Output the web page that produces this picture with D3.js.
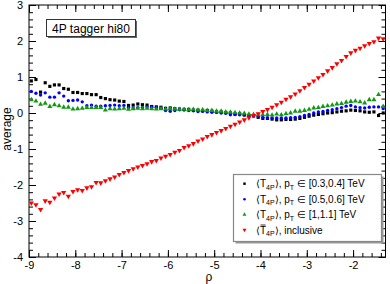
<!DOCTYPE html>
<html><head><meta charset="utf-8">
<script src="https://cdn.jsdelivr.net/npm/d3@7"></script>
<style>
html,body{margin:0;padding:0;background:#fff;}
svg{display:block;font-family:"Liberation Sans",Arial,sans-serif;}
</style></head>
<body><svg id="c" width="390" height="284"></svg>
<script>
const rho = [-8.95,-8.85,-8.75,-8.65,-8.55,-8.45,-8.35,-8.25,-8.15,-8.05,
-7.95,-7.85,-7.75,-7.65,-7.55,-7.45,-7.35,-7.25,-7.15,-7.05,
-6.95,-6.85,-6.75,-6.65,-6.55,-6.45,-6.35,-6.25,-6.15,-6.05,
-5.95,-5.85,-5.75,-5.65,-5.55,-5.45,-5.35,-5.25,-5.15,-5.05,
-4.95,-4.85,-4.75,-4.65,-4.55,-4.45,-4.35,-4.25,-4.15,-4.05,
-3.95,-3.85,-3.75,-3.65,-3.55,-3.45,-3.35,-3.25,-3.15,-3.05,
-2.95,-2.85,-2.75,-2.65,-2.55,-2.45,-2.35,-2.25,-2.15,-2.05,
-1.95,-1.85,-1.75,-1.65,-1.55,-1.45,-1.35];
const pt03 = [.89,.93,.58,.84,.74,.78,.78,.68,.66,.57,
.57,.54,.54,.51,.51,.43,.40,.37,.36,.33,
.32,.21,.22,.25,.23,.22,.18,.17,.16,.13,
.14,.12,.11,.10,.10,.08,.08,.06,.07,.05,
.03,.03,.01,.00,-.03,-.02,-.05,-.07,-.08,-.12,
-.15,-.15,-.17,-.19,-.19,-.18,-.18,-.17,-.15,-.12,
-.09,-.06,-.04,-.02,.00,.01,.03,.05,.06,.08,
.07,.06,.03,.02,.03,-.07,.00];
const pt05 = [.60,.55,.50,.56,.44,.44,.56,.47,.34,.35,
.36,.31,.20,.22,.19,.19,.20,.21,.22,.20,
.21,.15,.14,.15,.15,.17,.16,.15,.13,.07,
.05,.07,.09,.08,.07,.06,.04,.05,.03,.02,
.02,.00,-.01,-.05,-.04,-.05,-.06,-.07,-.08,-.10,
-.12,-.13,-.14,-.14,-.14,-.14,-.13,-.12,-.10,-.07,
-.04,.00,.03,.04,.07,.09,.12,.15,.19,.21,
.17,.15,.14,.16,.17,.17,.12];
const pt10 = [.37,.33,.24,.27,.18,.23,.20,.16,.16,.11,
.12,.13,.15,.15,.15,.15,.08,.12,.11,.12,
.13,.10,.12,.13,.12,.13,.12,.11,.12,.11,
.12,.11,.10,.10,.09,.10,.08,.09,.07,.07,
.05,.05,.03,.02,.01,.00,-.01,-.03,-.04,-.05,
-.05,-.04,-.06,-.03,-.05,-.02,.00,.05,.05,.07,
.10,.14,.15,.18,.20,.22,.25,.26,.30,.32,
.33,.31,.28,.37,.37,.51,.18];
const inclusive = [-2.50,-2.55,-2.68,-2.44,-2.48,-2.36,-2.25,-2.21,-2.31,-2.18,
-2.13,-2.15,-2.08,-2.05,-1.93,-1.94,-1.88,-1.83,-1.78,-1.71,
-1.65,-1.60,-1.55,-1.50,-1.46,-1.41,-1.35,-1.32,-1.25,-1.20,
-1.15,-1.09,-1.04,-0.96,-0.91,-0.85,-0.78,-0.72,-0.65,-0.60,
-0.54,-0.49,-0.43,-0.37,-0.31,-0.25,-0.19,-0.13,-0.07,-0.02,
0.04,0.10,0.16,0.23,0.30,0.38,0.45,0.53,0.62,0.71,
0.80,0.89,0.98,1.07,1.17,1.26,1.37,1.46,1.57,1.67,
1.74,1.80,1.87,1.93,1.98,2.08,2.06];
const xTicks = [-9,-8,-7,-6,-5,-4,-3,-2];
const yTicks = [-4,-3,-2,-1,0,1,2,3];
const seriesNames = ["pt03","pt05","pt10","inclusive"];
const legendRanges = ["[0.3,0.4] TeV","[0.5,0.6] TeV","[1,1.1] TeV"];
const titleText = "4P tagger hi80";
const xTitle = "ρ", yTitle = "average";

const svg = d3.select("#c");
const L=29, R=385.5, T=5, B=257;
const x = d3.scaleLinear().domain([-9,-1.3]).range([L,R]);
const y = d3.scaleLinear().domain([-4,3]).range([B,T]);

const xMinor = d3.range(-9,-1.3,0.2).map(v=>+v.toFixed(2));
const yMinor = d3.range(-4,3.01,0.2).map(v=>+v.toFixed(2));

function styleAxis(g){ g.select(".domain").remove(); g.selectAll("line").attr("stroke","#000"); }
const fmt = d=>String(d);
// bottom
svg.append("g").attr("transform",`translate(0,${B})`).call(d3.axisBottom(x).tickValues(xMinor).tickSize(-4).tickFormat("")).call(styleAxis);
svg.append("g").attr("transform",`translate(0,${B})`).call(d3.axisBottom(x).tickValues(xTicks).tickSize(-7).tickPadding(4).tickFormat(fmt)).call(styleAxis)
  .selectAll("text").attr("font-size",11).attr("font-family","Liberation Sans, Arial, sans-serif").attr("fill","#000");
// top
svg.append("g").attr("transform",`translate(0,${T})`).call(d3.axisTop(x).tickValues(xMinor).tickSize(-4).tickFormat("")).call(styleAxis);
svg.append("g").attr("transform",`translate(0,${T})`).call(d3.axisTop(x).tickValues(xTicks).tickSize(-7).tickFormat("")).call(styleAxis);
// left
svg.append("g").attr("transform",`translate(${L},0)`).call(d3.axisLeft(y).tickValues(yMinor).tickSize(-4).tickFormat("")).call(styleAxis);
svg.append("g").attr("transform",`translate(${L},0)`).call(d3.axisLeft(y).tickValues(yTicks).tickSize(-7).tickPadding(6).tickFormat(fmt)).call(styleAxis)
  .selectAll("text").attr("font-size",11).attr("font-family","Liberation Sans, Arial, sans-serif").attr("fill","#000");
// right
svg.append("g").attr("transform",`translate(${R},0)`).call(d3.axisRight(y).tickValues(yMinor).tickSize(-4).tickFormat("")).call(styleAxis);
svg.append("g").attr("transform",`translate(${R},0)`).call(d3.axisRight(y).tickValues(yTicks).tickSize(-7).tickFormat("")).call(styleAxis);

svg.append("rect").attr("x",L).attr("y",T).attr("width",R-L).attr("height",B-T).attr("fill","none").attr("stroke","#000").attr("stroke-width",1);

// axis titles
svg.append("text").attr("x",209).attr("y",281).attr("text-anchor","middle").attr("font-size",12).text(xTitle);
svg.append("text").attr("transform","translate(11,129) rotate(-90)").attr("text-anchor","middle").attr("font-size",12).text(yTitle);

// series
const data = {pt03, pt05, pt10, inclusive};
const styles = {
  pt03:{color:"#000000", sym:d3.symbolSquare, size:10, rot:0},
  pt05:{color:"#0000ff", sym:d3.symbolCircle, size:9, rot:0},
  pt10:{color:"#119911", sym:d3.symbolTriangle, size:11, rot:0},
  inclusive:{color:"#ff0000", sym:d3.symbolTriangle, size:12, rot:180}
};
seriesNames.forEach(name=>{
  const st = styles[name];
  svg.append("g").selectAll("path").data(data[name]).join("path")
    .attr("d", d3.symbol().type(st.sym).size(st.size))
    .attr("transform",(d,i)=>`translate(${x(rho[i])},${y(d)}) rotate(${st.rot})`)
    .attr("fill",st.color);
});

// title box
svg.append("rect").attr("x",48).attr("y",21).attr("width",89).attr("height",17).attr("fill","#666");
svg.append("rect").attr("x",46.5).attr("y",19.5).attr("width",89).attr("height",17).attr("fill","#fff").attr("stroke","#333").attr("stroke-width",1);
svg.append("text").attr("x",91).attr("y",32.5).attr("text-anchor","middle").attr("font-size",12).text(titleText);

// legend
const lx=233.5, ly=174.5, lw=148, lh=67;
svg.append("rect").attr("x",lx+2).attr("y",ly+2).attr("width",lw).attr("height",lh).attr("fill","#999");
svg.append("rect").attr("x",lx).attr("y",ly).attr("width",lw).attr("height",lh).attr("fill","#fff").attr("stroke","#888").attr("stroke-width",1.2);
const rowY = [183.7,199.2,214.6,230];
seriesNames.forEach((name,i)=>{
  const st = styles[name];
  svg.append("path").attr("d", d3.symbol().type(st.sym).size(st.size*0.6))
    .attr("transform",`translate(244.5,${rowY[i]}) rotate(${st.rot})`).attr("fill",st.color);
  const t = svg.append("text").attr("x",256).attr("y",rowY[i]+3.5).attr("font-size",10).attr("fill","#000");
  t.append("tspan").text("⟨T");
  t.append("tspan").attr("font-size",7).attr("dy",2.5).text("4P");
  t.append("tspan").attr("dy",-2.5).text("⟩");
  if(i<3){
    t.append("tspan").text(", p");
    t.append("tspan").attr("font-size",7).attr("dy",2.5).text("T");
    t.append("tspan").attr("dy",-2.5).text(" ∈ " + legendRanges[i]);
  } else {
    t.append("tspan").text(", inclusive");
    const ext = t.node().getExtentOfChar(1);
    svg.append("line").attr("x1",ext.x+0.5).attr("x2",ext.x+ext.width-0.5)
      .attr("y1",ext.y+0.5).attr("y2",ext.y+0.5).attr("stroke","#000").attr("stroke-width",0.8);
  }
});
</script></body></html>
